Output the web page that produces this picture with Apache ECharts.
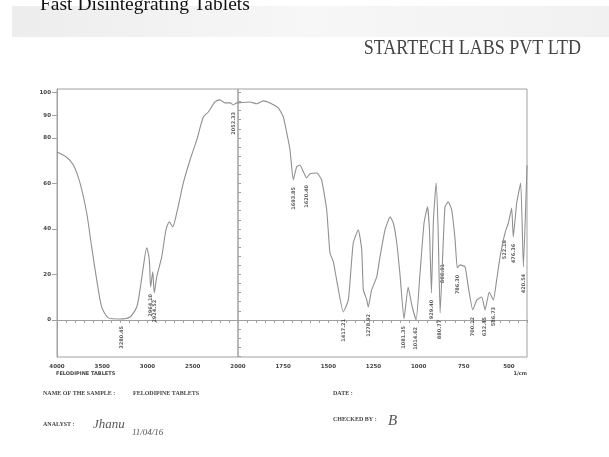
<!DOCTYPE html>
<html><head><meta charset="utf-8">
<script src="https://cdn.jsdelivr.net/npm/echarts@6/dist/echarts.min.js"></script>
<style>html,body{margin:0;padding:0;background:#fff}#c{width:609px;height:457px}</style>
</head><body><div id="c"></div>
<script>
// wavenumber (1/cm) and transmittance (%T), 4000-2000 section
const leftWn = [4000,3901,3820,3746,3672,3617,3561,3506,3433,3304,3193,3119,3083,3046,3009,2980,2965,2942,2925,2898,2843,2796,2759,2722,2677,2604,2530,2456,2383,2328,2254,2199,2144,2088,2052,2014,2000];
const leftT  = [73.8,71.7,68.2,60.2,47.0,32.1,17.6,5.7,0.9,0.4,1.3,5.7,13.2,23.3,31.7,26.4,14.5,21.1,11.9,18.9,27.7,39.6,43.1,40.9,47.0,60.2,70.3,79.1,89.2,91.4,95.8,96.7,95.4,95.4,94.5,95.4,95.4];
// 2000-400 section
const rightWn = [2000,1934,1896,1860,1823,1777,1749,1730,1712,1694,1675,1657,1638,1620,1601,1564,1537,1509,1491,1472,1454,1417,1389,1362,1334,1315,1306,1287,1279,1260,1232,1214,1186,1158,1140,1121,1103,1081,1058,1038,1014,992,970,951,940,929,918,903,892,881,867,854,836,817,798,786,771,743,725,700,678,651,632,609,586,568,549,522,503,485,476,457,435,420,400];
const rightT  = [95.4,95.8,95.0,96.3,95.4,93.2,89.2,82.2,74.7,61.5,67.3,68.1,65.1,62.4,64.2,64.6,61.5,48.4,29.5,25.5,17.6,3.5,8.8,33.8,39.6,30.8,13.2,8.8,5.7,13.2,18.9,27.7,39.6,45.3,42.6,33.8,19.8,0.4,14.5,6.6,0.0,20.7,42.6,49.7,39.6,11.9,44.0,60.2,39.6,3.1,27.7,49.7,51.9,48.4,35.2,22.9,24.2,23.3,14.5,4.4,8.8,10.1,4.4,12.3,8.8,17.6,27.7,38.2,42.6,49.2,36.5,51.4,60.2,23.3,68.0];
// labelled peaks
const peakLeftWn = [3280.45,2964.10,2924.52,2052.33];
const peakLeftT  = [0.4,14.5,11.9,94.5];
const peakRightWn = [1693.85,1620.40,1417.21,1278.92,1081.35,1014.62,929.40,880.77,866.91,786.30,700.12,632.45,586.73,522.18,476.36,420.54];
const peakRightT  = [61.5,62.4,3.5,5.7,0.4,0.0,11.9,3.1,27.7,22.9,4.4,4.4,8.8,38.2,36.5,23.3];
// tick labels
const xLabelsLeft = [4000,3500,3000,2500,2000];
const xLabelsRight = [1750,1500,1250,1000,750,500];
const xTicksLeft = [4000,3900,3800,3700,3600,3500,3400,3300,3200,3100,3000,2900,2800,2700,2600,2500,2400,2300,2200,2100,2000];
const xTicksRight = [2000,1950,1900,1850,1800,1750,1700,1650,1600,1550,1500,1450,1400,1350,1300,1250,1200,1150,1100,1050,1000,950,900,850,800,750,700,650,600,550,500,450,400];
const yLabels = [0,20,40,60,80,90,100];
const yMinor = [-16,-12,-8,-4,0,4,8,12,16,20,24,28,32,36,40,44,48,52,56,60,64,68,72,76,80,84,88,92,96,100];

const axisCol = '#a0a0a0';
const txtCol = '#444';
const yMin = -16.3, yMax = 101.5;

const chart = echarts.init(document.getElementById('c'), null, {renderer:'canvas'});
const pair = (a,b) => a.map((v,i)=>[v,b[i]]);
const plain = v => String(v);
const peakLabel = {
  show:true, rotate:90, position:'bottom', distance:7, align:'right', verticalAlign:'middle',
  fontSize:5, color:'#333', fontFamily:'DejaVu Sans', fontWeight:'bold',
  formatter: p => p.value[0].toFixed(2)
};
const lineStyle = {color:'#909090', width:1.1};
const tickLabel = {fontSize:5.5, color:txtCol, margin:7, fontFamily:'DejaVu Sans', fontWeight:'bold', formatter:plain};

chart.setOption({
  animation:false,
  backgroundColor:'#fff',
  grid:[
    {left:57, top:89, width:181, height:268, show:true, borderColor:axisCol, borderWidth:1},
    {left:238, top:89, width:289, height:268, show:true, borderColor:axisCol, borderWidth:1}
  ],
  xAxis:[
    {gridIndex:0, type:'value', min:2000, max:4000, inverse:true,
     axisLine:{show:true, lineStyle:{color:axisCol}},
     axisTick:{show:true, length:3, customValues:xTicksLeft, lineStyle:{color:axisCol}},
     axisLabel:Object.assign({customValues:xLabelsLeft}, tickLabel),
     splitLine:{show:false}},
    {gridIndex:1, type:'value', min:400, max:2000, inverse:true,
     axisLine:{show:true, lineStyle:{color:axisCol}},
     axisTick:{show:true, length:3, customValues:xTicksRight, lineStyle:{color:axisCol}},
     axisLabel:Object.assign({customValues:xLabelsRight}, tickLabel),
     splitLine:{show:false}}
  ],
  yAxis:[
    {gridIndex:0, type:'value', min:yMin, max:yMax,
     axisLine:{show:true, lineStyle:{color:axisCol}},
     axisTick:{show:true, length:5, customValues:yLabels, lineStyle:{color:axisCol}},
     axisLabel:Object.assign({}, tickLabel, {customValues:yLabels, margin:6}),
     splitLine:{show:false}},
    {gridIndex:0, type:'value', min:yMin, max:yMax,
     axisLine:{show:false},
     axisTick:{show:true, length:3, customValues:yMinor, lineStyle:{color:axisCol}},
     axisLabel:{show:false}, splitLine:{show:false}},
    {gridIndex:1, type:'value', min:yMin, max:yMax, show:false}
  ],
  series:[
    {type:'line', xAxisIndex:0, yAxisIndex:0, data:pair(leftWn,leftT), showSymbol:false, symbol:'none', smooth:0.25, lineStyle},
    {type:'line', xAxisIndex:1, yAxisIndex:2, data:pair(rightWn,rightT), showSymbol:false, symbol:'none', smooth:0.15, lineStyle},
    {type:'scatter', xAxisIndex:0, yAxisIndex:0, data:pair(peakLeftWn,peakLeftT), symbolSize:0, label:peakLabel, silent:true},
    {type:'scatter', xAxisIndex:1, yAxisIndex:2, data:pair(peakRightWn,peakRightT), symbolSize:0, label:peakLabel, silent:true}
  ],
  graphic:[
    {type:'rect', shape:{x:12, y:6, width:597, height:31}, style:{fill:{type:'linear', x:0, y:0, x2:1, y2:0, colorStops:[{offset:0, color:'#ededed'},{offset:0.5, color:'#f7f7f7'},{offset:1, color:'#f1f1f1'}]}}, z:-10},
    {type:'text', x:40, y:5, style:{text:'Fast Disintegrating Tablets', fontSize:19.5, fontFamily:'Liberation Serif', fill:'#111', align:'left', verticalAlign:'middle'}},
    {type:'text', x:581, y:49, scaleX:0.9, style:{text:'STARTECH LABS PVT LTD', fontSize:20, fontFamily:'Liberation Serif', fill:'#444', align:'right', verticalAlign:'middle'}},
    {type:'text', x:527, y:374, style:{text:'1/cm', fontSize:5, fontFamily:'DejaVu Sans', fontWeight:'bold', fill:txtCol, align:'right', verticalAlign:'middle'}},
    {type:'text', x:56, y:374, style:{text:'FELODIPINE TABLETS', fontSize:5, fontFamily:'DejaVu Sans', fontWeight:'bold', fill:txtCol, align:'left', verticalAlign:'middle'}},
    {type:'text', x:43, y:393, style:{text:'NAME OF THE SAMPLE :', fontSize:6, fontFamily:'Liberation Serif', fontWeight:'bold', fill:txtCol, align:'left', verticalAlign:'middle'}},
    {type:'text', x:133, y:393, style:{text:'FELODIPINE TABLETS', fontSize:6, fontFamily:'Liberation Serif', fontWeight:'bold', fill:txtCol, align:'left', verticalAlign:'middle'}},
    {type:'text', x:333, y:393, style:{text:'DATE :', fontSize:6, fontFamily:'Liberation Serif', fontWeight:'bold', fill:txtCol, align:'left', verticalAlign:'middle'}},
    {type:'text', x:43, y:424, style:{text:'ANALYST :', fontSize:6, fontFamily:'Liberation Serif', fontWeight:'bold', fill:txtCol, align:'left', verticalAlign:'middle'}},
    {type:'text', x:93, y:425, style:{text:'Jhanu', fontSize:13, fontStyle:'italic', fontFamily:'Liberation Serif', fill:'#555', align:'left', verticalAlign:'middle'}},
    {type:'text', x:132, y:433, style:{text:'11/04/16', fontSize:9, fontStyle:'italic', fontFamily:'Liberation Serif', fill:'#555', align:'left', verticalAlign:'middle'}},
    {type:'text', x:333, y:419, style:{text:'CHECKED BY :', fontSize:6, fontFamily:'Liberation Serif', fontWeight:'bold', fill:txtCol, align:'left', verticalAlign:'middle'}},
    {type:'text', x:388, y:421, style:{text:'B', fontSize:15, fontStyle:'italic', fontFamily:'Liberation Serif', fill:'#555', align:'left', verticalAlign:'middle'}}
  ]
});
</script></body></html>
